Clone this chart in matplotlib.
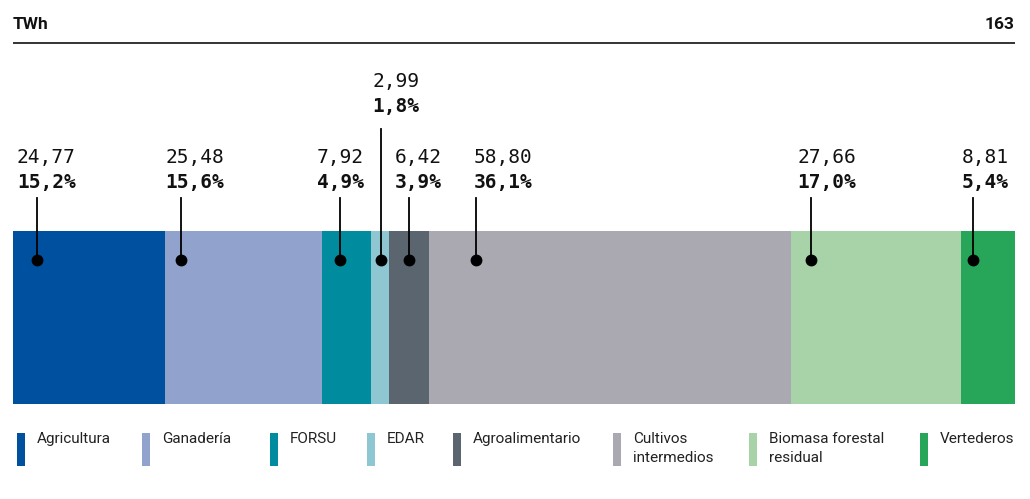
import matplotlib.pyplot as plt
from matplotlib.patches import Rectangle
import numpy as np

# Datos del gráfico (TWh)
categorias = ['Agricultura', 'Ganadería', 'FORSU', 'EDAR', 'Agroalimentario',
              'Cultivos\nintermedios', 'Biomasa forestal\nresidual', 'Vertederos']
valores = [24.77, 25.48, 7.92, 2.99, 6.42, 58.80, 27.66, 8.81]
porcentajes = [15.2, 15.6, 4.9, 1.8, 3.9, 36.1, 17.0, 5.4]
total_twh = 163
unidad = 'TWh'

colores = ['#0050A0', '#91A3CC', '#008C9E', '#8EC6D1', '#5A6570',
           '#AAA9B2', '#A8D3A9', '#27A65A']

# posición del punto dentro de cada tramo y del texto respecto al punto (en TWh)
desp_punto = [3.9, 2.6, 2.9, 1.58, 3.14, 7.64, 3.25, 1.95]
desp_texto = [-3.25, -2.6, -3.74, -1.3, -2.28, -0.33, -2.1, -1.8]
fila_alta = [False, False, False, True, False, False, False, False]

# posiciones de la leyenda (px)
leyenda_x = [17, 142, 270, 367, 453, 613, 749, 920]

W, H = 1030, 499
fig = plt.figure(figsize=(W / 100, H / 100), dpi=100)

# capa de fondo en píxeles para cabecera y leyenda
ax0 = fig.add_axes([0, 0, 1, 1])
ax0.set_xlim(0, W)
ax0.set_ylim(H, 0)
ax0.axis('off')

ax0.text(13, 29, unidad, fontsize=12.5, fontweight='bold', family='Roboto',
         ha='left', va='baseline', color='#111111')
ax0.text(1014, 29, f'{total_twh}', fontsize=12.5, fontweight='bold', family='Roboto',
         ha='right', va='baseline', color='#111111')
ax0.plot([13, 1015], [42.5, 42.5], color='#111111', lw=1.2, solid_capstyle='butt')

for x, cat, col in zip(leyenda_x, categorias, colores):
    ax0.add_patch(Rectangle((x, 433), 8, 33, color=col, lw=0))
    ax0.text(x + 20, 432, cat, fontsize=11, family='Roboto', color='#222222',
             ha='left', va='top', linespacing=1.45)

# barra apilada
ax = fig.add_axes([13 / W, (H - 404) / H, 1002 / W, 173 / H])
izquierda = np.concatenate([[0], np.cumsum(valores)[:-1]])
ax.barh(0.5, valores, left=izquierda, height=1, color=colores, lw=0)
ax.set_xlim(0, sum(valores))
ax.set_ylim(0, 1)
ax.axis('off')

y_punto = 0.832
for izq, v, p, dp, dt, alta in zip(izquierda, valores, porcentajes,
                                    desp_punto, desp_texto, fila_alta):
    xp = izq + dp
    if alta:
        y_val, y_pct, y_lin = 1.832, 1.688, 1.59
    else:
        y_val, y_pct, y_lin = 1.393, 1.249, 1.191
    ax.plot([xp, xp], [y_punto, y_lin], color='black', lw=1.3, clip_on=False)
    ax.plot(xp, y_punto, 'o', color='black', ms=7.5, clip_on=False)
    ax.text(xp + dt, y_val, f'{v:.2f}'.replace('.', ','), fontsize=14,
            family='DejaVu Sans Mono', ha='left', va='baseline', color='#111111',
            clip_on=False)
    ax.text(xp + dt, y_pct, f'{p:.1f}%'.replace('.', ','), fontsize=14,
            family='DejaVu Sans Mono', fontweight='bold', ha='left', va='baseline',
            color='#111111', clip_on=False)

fig.savefig('out.png', dpi=100)
